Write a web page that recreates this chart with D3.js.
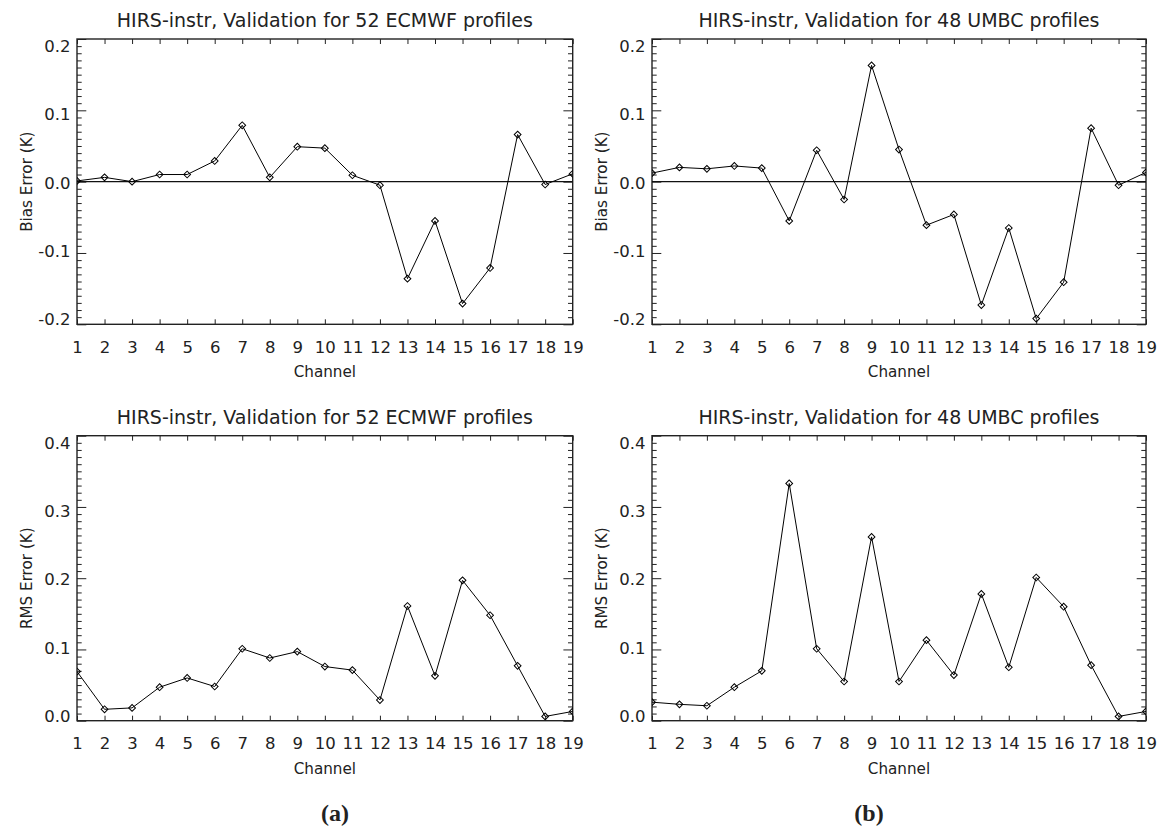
<!DOCTYPE html>
<html>
<head>
<meta charset="utf-8">
<script src="https://cdn.jsdelivr.net/npm/d3@7"></script>
<style>
  body { margin: 0; background: #fff; }
  text { font-family: "DejaVu Sans", sans-serif; fill: #222; }
</style>
</head>
<body>
<div id="chart"></div>
<script>
// channels on the x axis
const channels = [1, 2, 3, 4, 5, 6, 7, 8, 9, 10, 11, 12, 13, 14, 15, 16, 17, 18, 19];

// values
const biasEcmwf = [0.001, 0.006, 0.000, 0.010, 0.010, 0.029, 0.079, 0.006, 0.049, 0.047,
                   0.009, -0.005, -0.136, -0.055, -0.171, -0.121, 0.066, -0.004, 0.011];
const biasUmbc  = [0.012, 0.020, 0.018, 0.022, 0.019, -0.055, 0.044, -0.025, 0.163, 0.045,
                   -0.061, -0.046, -0.173, -0.065, -0.192, -0.141, 0.075, -0.005, 0.013];
const rmsEcmwf  = [0.069, 0.016, 0.018, 0.047, 0.060, 0.048, 0.101, 0.088, 0.097, 0.076,
                   0.071, 0.029, 0.161, 0.063, 0.197, 0.148, 0.077, 0.006, 0.013];
const rmsUmbc   = [0.026, 0.023, 0.021, 0.047, 0.070, 0.333, 0.101, 0.055, 0.258, 0.055,
                   0.113, 0.064, 0.178, 0.075, 0.201, 0.160, 0.078, 0.006, 0.013];

const biasTicks = [-0.2, -0.1, 0.0, 0.1, 0.2];
const rmsTicks = [0.0, 0.1, 0.2, 0.3, 0.4];

const titleEcmwf = "HIRS-instr, Validation for 52 ECMWF profiles";
const titleUmbc = "HIRS-instr, Validation for 48 UMBC profiles";

const svg = d3.select("#chart").append("svg")
  .attr("width", 1160)
  .attr("height", 827);

const panels = [
  { id: "tl", left: 77, right: 572.7, top: 39, bottom: 324.3, values: biasEcmwf, ticks: biasTicks, title: titleEcmwf, ylabel: "Bias Error (K)", zero: true },
  { id: "tr", left: 652, right: 1146, top: 39, bottom: 324.3, values: biasUmbc, ticks: biasTicks, title: titleUmbc, ylabel: "Bias Error (K)", zero: true },
  { id: "bl", left: 77, right: 572.7, top: 435.7, bottom: 720.7, values: rmsEcmwf, ticks: rmsTicks, title: titleEcmwf, ylabel: "RMS Error (K)", zero: false },
  { id: "br", left: 652, right: 1146, top: 435.7, bottom: 720.7, values: rmsUmbc, ticks: rmsTicks, title: titleUmbc, ylabel: "RMS Error (K)", zero: false }
];

function minorTicks(ticks) {
  let out = [];
  for (let i = 0; i < ticks.length - 1; i++) {
    let step = (ticks[i + 1] - ticks[i]) / 10;
    for (let k = 1; k < 10; k++) out.push(ticks[i] + step * k);
  }
  return out;
}

function drawPanel(p) {
  let x = d3.scaleLinear().domain([channels[0], channels[channels.length - 1]]).range([p.left, p.right]);
  let y = d3.scaleLinear().domain([p.ticks[0], p.ticks[p.ticks.length - 1]]).range([p.bottom, p.top]);
  let mid = (p.top + p.bottom) / 2;

  let g = svg.append("g");

  // bottom axis with labels
  let xb = g.append("g")
    .attr("transform", `translate(0,${p.bottom})`)
    .call(d3.axisBottom(x).tickValues(channels).tickSizeInner(-5).tickSizeOuter(0).tickPadding(16.5).tickFormat(d3.format("d")));
  // top axis, ticks only
  let xt = g.append("g")
    .attr("transform", `translate(0,${p.top})`)
    .call(d3.axisTop(x).tickValues(channels).tickSizeInner(-5).tickSizeOuter(0).tickFormat(""));

  // left axis, major and minor
  let yl = g.append("g")
    .attr("transform", `translate(${p.left},0)`)
    .call(d3.axisLeft(y).tickValues(p.ticks).tickSizeInner(-9.3).tickSizeOuter(0).tickPadding(6.5).tickFormat(d => d.toFixed(1)));
  yl.selectAll("text")
    .attr("y", d => -(y(d) - mid) * 0.042)
    .attr("dy", "0.40em");
  let ylm = g.append("g")
    .attr("transform", `translate(${p.left},0)`)
    .call(d3.axisLeft(y).tickValues(minorTicks(p.ticks)).tickSizeInner(-4.7).tickSizeOuter(0).tickFormat(""));

  // right axis, major and minor
  let yr = g.append("g")
    .attr("transform", `translate(${p.right},0)`)
    .call(d3.axisRight(y).tickValues(p.ticks).tickSizeInner(-9.3).tickSizeOuter(0).tickFormat(""));
  let yrm = g.append("g")
    .attr("transform", `translate(${p.right},0)`)
    .call(d3.axisRight(y).tickValues(minorTicks(p.ticks)).tickSizeInner(-4.7).tickSizeOuter(0).tickFormat(""));

  g.selectAll(".domain").remove();
  g.selectAll(".tick line").attr("stroke", "#222").attr("stroke-width", 1);
  g.selectAll(".tick text").style("font-size", "16.5px").attr("fill", "#222").style("font-family", "'DejaVu Sans', sans-serif");

  // frame
  g.append("rect")
    .attr("x", p.left).attr("y", p.top)
    .attr("width", p.right - p.left).attr("height", p.bottom - p.top)
    .attr("fill", "none").attr("stroke", "#222").attr("stroke-width", 1.4);

  // clip for the data
  svg.append("clipPath").attr("id", "clip-" + p.id)
    .append("rect")
    .attr("x", p.left).attr("y", p.top)
    .attr("width", p.right - p.left).attr("height", p.bottom - p.top);

  let plot = g.append("g").attr("clip-path", `url(#clip-${p.id})`);

  if (p.zero) {
    plot.append("line")
      .attr("x1", p.left).attr("x2", p.right)
      .attr("y1", y(0)).attr("y2", y(0))
      .attr("stroke", "#111").attr("stroke-width", 1.3);
  }

  let pts = channels.map((c, i) => ({ c: c, v: p.values[i] }));

  plot.append("path")
    .datum(pts)
    .attr("fill", "none")
    .attr("stroke", "#000")
    .attr("stroke-width", 1)
    .attr("d", d3.line().x(d => x(d.c)).y(d => y(d.v)));

  plot.selectAll("path.mark")
    .data(pts)
    .enter()
    .append("path")
    .attr("class", "mark")
    .attr("d", d3.symbol(d3.symbolSquare, 23))
    .attr("transform", d => `translate(${x(d.c)},${y(d.v)}) rotate(45)`)
    .attr("fill", "none")
    .attr("stroke", "#000")
    .attr("stroke-width", 1);

  // title
  g.append("text")
    .attr("x", (p.left + p.right) / 2)
    .attr("y", p.top - 11.8)
    .attr("text-anchor", "middle")
    .style("font-size", "19px")
    .text(p.title);

  // axis labels
  g.append("text")
    .attr("x", (p.left + p.right) / 2)
    .attr("y", p.bottom + 52.8)
    .attr("text-anchor", "middle")
    .style("font-size", "15.2px")
    .text("Channel");

  g.append("text")
    .attr("transform", `translate(${p.left - 45.5},${mid}) rotate(-90)`)
    .attr("text-anchor", "middle")
    .style("font-size", "15.2px")
    .text(p.ylabel);
}

panels.forEach(drawPanel);

// sub-figure captions
svg.append("text")
  .attr("x", 335).attr("y", 821)
  .attr("text-anchor", "middle")
  .style("font-family", "'Liberation Serif', serif")
  .style("font-weight", "bold")
  .style("font-size", "24px")
  .attr("fill", "#000")
  .text("(a)");

svg.append("text")
  .attr("x", 869).attr("y", 821)
  .attr("text-anchor", "middle")
  .style("font-family", "'Liberation Serif', serif")
  .style("font-weight", "bold")
  .style("font-size", "24px")
  .attr("fill", "#000")
  .text("(b)");
</script>
</body>
</html>
